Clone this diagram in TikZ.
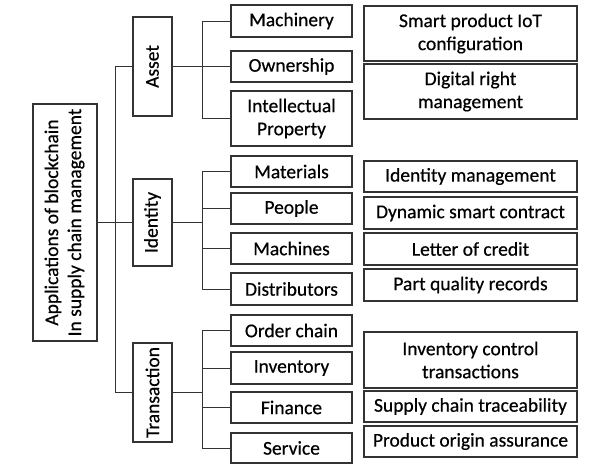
\documentclass[tikz,border=0pt]{standalone}
\usepackage{fontspec}
\setmainfont{Carlito}
\newfontfamily\boxfont[FakeBold=0.5]{Carlito}
\usepackage{graphicx}
\tikzset{
  box/.style={draw=black!80, line width=1.1pt, inner sep=1pt, align=center,
    font=\boxfont\fontsize{19.5}{23}\selectfont},
  catbox/.style={box, minimum width=39pt, minimum height=99pt},
  leaf/.style={box, minimum width=121pt, minimum height=31pt},
  usebox/.style={box, minimum width=213pt, minimum height=31pt},
}
\begin{document}
\begin{tikzpicture}[x=1pt,y=-1pt]
      \useasboundingbox (0,0) rectangle (614,470);
      \draw
        (65,222.5) node[box, minimum width=64pt, minimum height=237pt] (app){\rotatebox{90}{\begin{tabular}{@{}c@{}}Applications of blockchain\\In supply chain management\end{tabular}}}
        (152.5,66.5) node[catbox] (asset){\rotatebox{90}{Asset}}
        (152.5,222.5) node[catbox, minimum height=87pt] (ident){\rotatebox{90}{Identity}}
        (152.5,392.5) node[catbox] (trans){\rotatebox{90}{Transaction}}
        (291.5,21) node[leaf, minimum height=32pt] (mach){Machinery}
        (291.5,66.5) node[leaf] (own){Ownership}
        (291.5,118.5) node[leaf, minimum height=55pt] (ip){Intellectual\\Property}
        (291.5,171.5) node[leaf] (mat){Materials}
        (291.5,208.5) node[leaf] (peop){People}
        (291.5,248.5) node[leaf] (mchs){Machines}
        (291.5,289) node[leaf, minimum height=32pt] (dist){Distributors}
        (291.5,330.5) node[leaf] (order){Order chain}
        (291.5,368) node[leaf, minimum height=32pt] (inv){Inventory}
        (291.5,407.5) node[leaf] (fin){Finance}
        (291.5,448) node[leaf, minimum height=30pt] (serv){Service}
        (470.5,33.5) node[usebox, minimum height=55pt] (iot){Smart product IoT\\configuration}
        (470.5,91.5) node[usebox, minimum height=55pt] (drm){Digital right\\management}
        (470.5,176.5) node[usebox] (idm){Identity management}
        (470.5,213) node[usebox, minimum height=32pt] (dsc){Dynamic smart contract}
        (470.5,249) node[usebox, minimum height=32pt] (loc){Letter of credit}
        (470.5,285) node[usebox, minimum height=32pt] (pqr){Part quality records}
        (470.5,360) node[usebox, minimum height=56pt] (ict){Inventory control\\transactions}
        (470.5,406.5) node[usebox] (sct){Supply chain traceability}
        (470.5,441.5) node[usebox] (poa){Product origin assurance};
      \coordinate (t) at (115,0);
      \coordinate (b) at (202,0);
      \begin{scope}[-, draw=black!80, line width=0.9pt]
        \draw (app.east) to (app.east -| t);
        \draw (asset.west -| t) to (trans.west -| t);
        \draw (asset.west) to (asset.west -| t);
        \draw (ident.west) to (ident.west -| t);
        \draw (trans.west) to (trans.west -| t);
        \draw (asset.east) to (asset.east -| b);
        \draw (ident.east) to (ident.east -| b);
        \draw (trans.east) to (trans.east -| b);
        \draw (mach.west -| b) to (ip.west -| b);
        \draw (mat.west -| b) to (dist.west -| b);
        \draw (order.west -| b) to (serv.west -| b);
        \draw (mach.west) to (mach.west -| b);
        \draw (own.west) to (own.west -| b);
        \draw (ip.west) to (ip.west -| b);
        \draw (mat.west) to (mat.west -| b);
        \draw (peop.west) to (peop.west -| b);
        \draw (mchs.west) to (mchs.west -| b);
        \draw (dist.west) to (dist.west -| b);
        \draw (order.west) to (order.west -| b);
        \draw (inv.west) to (inv.west -| b);
        \draw (fin.west) to (fin.west -| b);
        \draw (serv.west) to (serv.west -| b);
      \end{scope}
    \end{tikzpicture}
\end{document}
